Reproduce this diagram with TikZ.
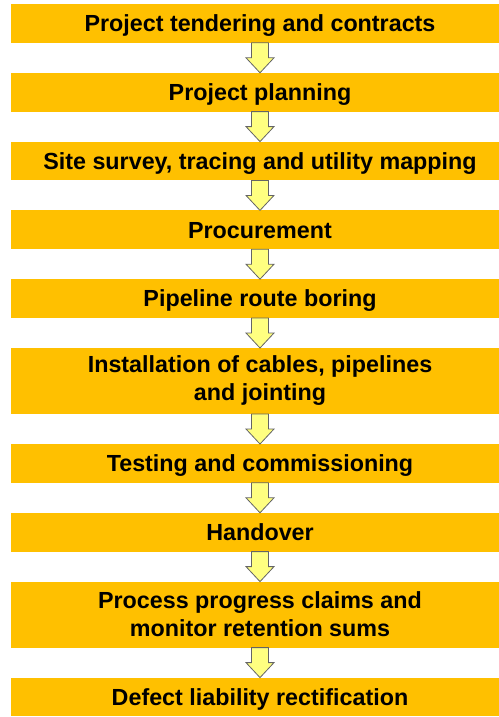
\documentclass[tikz,border=0pt]{standalone}
\usepackage{fontspec}
\setmainfont{Liberation Sans}
\usepackage{tikz}
\usetikzlibrary{positioning}
\usetikzlibrary{calc}

\definecolor{stagegold}{RGB}{255,192,0}
\definecolor{arrowfill}{RGB}{255,255,128}
\definecolor{arrowedge}{RGB}{100,100,100}

\begin{document}
\begin{tikzpicture}[
    x=1pt, y=-1pt,
    stagebox/.style={
      fill=stagegold,
      draw=none,
      minimum width=498pt,
      inner sep=0pt,
      outer sep=0pt,
      font=\fontsize{23.3}{28}\selectfont\bfseries
    },
    stage/.style={
      stagebox,
      minimum height=38.8pt,
      text height=16.5pt,
      text depth=0pt
    },
    stagetall/.style={
      stagebox,
      minimum height=66pt,
      align=center
    },
    flowarrow/.style={
      draw=arrowedge,
      fill=arrowfill,
      line width=0.8pt,
      line join=miter,
      to path={
        let \p1=(\tikztostart), \p2=(\tikztotarget) in
        (\x1-8.5pt,\y1) -- (\x1+8.5pt,\y1) -- (\x1+8.5pt,\y2+15pt)
        -- (\x1+14pt,\y2+15pt) -- (\x2,\y2) -- (\x1-14pt,\y2+15pt)
        -- (\x1-8.5pt,\y2+15pt) -- cycle
      }
    }
  ]
  \useasboundingbox (0,0) rectangle (498,717);

  % the stages, top to bottom (boxes run off the right edge)
  \node[stage, anchor=north] (s1) at (260,4) {Project tendering and contracts};
  \node[stage, below=30pt of s1] (s2) {Project planning};
  \node[stage, below=30pt of s2] (s3) {Site survey, tracing and utility mapping};
  \node[stage, below=30pt of s3] (s4) {Procurement};
  \node[stage, below=30pt of s4] (s5) {Pipeline route boring};
  \node[stagetall, below=30pt of s5] (s6) {Installation of cables, pipelines\\and jointing};
  \node[stage, below=30pt of s6] (s7) {Testing and commissioning};
  \node[stage, below=30pt of s7] (s8) {Handover};
  \node[stagetall, below=30pt of s8] (s9) {Process progress claims and\\monitor retention sums};
  \node[stage, below=30pt of s9] (s10) {Defect liability rectification};

  % block arrows between consecutive stages
  \foreach \a/\b in {s1/s2, s2/s3, s3/s4, s4/s5, s5/s6, s6/s7, s7/s8, s8/s9, s9/s10}
    \draw[flowarrow] (\a.south) to (\b.north);
\end{tikzpicture}
\end{document}
